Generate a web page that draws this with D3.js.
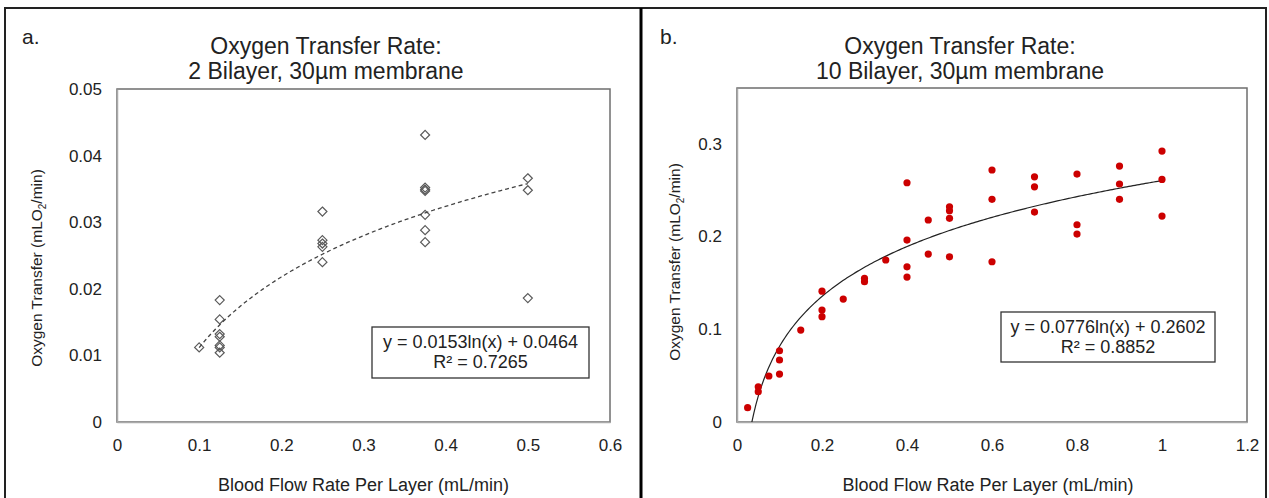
<!DOCTYPE html>
<html>
<head>
<meta charset="utf-8">
<script src="https://cdn.jsdelivr.net/npm/d3@7"></script>
<style>
  body { margin: 0; background: #fff; }
  text { font-family: "Liberation Sans", Arial, sans-serif; fill: #222; }
</style>
</head>
<body>
<div id="chart"></div>
<script>
// panel a: 2 bilayer (x = flow per layer, y = O2 transfer)
var aX = [0.1, 0.125, 0.125, 0.125, 0.125, 0.125, 0.125, 0.125,
          0.25, 0.25, 0.25, 0.25, 0.25,
          0.375, 0.375, 0.375, 0.375, 0.375, 0.375, 0.375,
          0.5, 0.5, 0.5];
var aY = [0.0112, 0.0183, 0.0154, 0.0132, 0.0128, 0.0115, 0.0112, 0.0104,
          0.0316, 0.0273, 0.0268, 0.0263, 0.0240,
          0.0431, 0.0352, 0.0349, 0.0347, 0.0311, 0.0288, 0.0270,
          0.0366, 0.0348, 0.0186];
var aFit = {a: 0.0153, b: 0.0464, r2: '0.7265'};
var aXTicks = [0, 0.1, 0.2, 0.3, 0.4, 0.5, 0.6];
var aYTicks = [0, 0.01, 0.02, 0.03, 0.04, 0.05];

// panel b: 10 bilayer
var bX = [0.025, 0.05, 0.05, 0.075, 0.1, 0.1, 0.1, 0.15,
          0.2, 0.2, 0.2, 0.25, 0.3, 0.3, 0.35,
          0.4, 0.4, 0.4, 0.4, 0.45, 0.45,
          0.5, 0.5, 0.5, 0.5, 0.6, 0.6, 0.6,
          0.7, 0.7, 0.7, 0.8, 0.8, 0.8,
          0.9, 0.9, 0.9, 1.0, 1.0, 1.0];
var bY = [0.0154, 0.038, 0.0327, 0.0496, 0.0768, 0.0668, 0.0517, 0.0991,
          0.141, 0.1207, 0.1135, 0.1325, 0.1548, 0.1512, 0.1746,
          0.2579, 0.1961, 0.1673, 0.1562, 0.2177, 0.181,
          0.232, 0.2277, 0.2195, 0.178, 0.2716, 0.24, 0.1727,
          0.2643, 0.2535, 0.2263, 0.2672, 0.2126, 0.2026,
          0.2759, 0.2565, 0.24, 0.292, 0.2615, 0.222];
var bFit = {a: 0.0776, b: 0.2602, r2: '0.8852'};
var bXTicks = [0, 0.2, 0.4, 0.6, 0.8, 1, 1.2];
var bYTicks = [0, 0.1, 0.2, 0.3];

var width = 1269, height = 498;
var svg = d3.select('#chart').append('svg')
  .attr('width', width).attr('height', height);

// outer frame and divider
svg.append('rect').attr('x', 5).attr('y', 8).attr('width', 1261).attr('height', 495)
  .attr('fill', 'none').attr('stroke', '#222').attr('stroke-width', 2);
svg.append('line').attr('x1', 641).attr('x2', 641).attr('y1', 8).attr('y2', 498)
  .attr('stroke', '#000').attr('stroke-width', 3);

function panel(opt) {
  var x = d3.scaleLinear().domain(opt.xDomain).range([opt.left, opt.right]);
  var y = d3.scaleLinear().domain(opt.yDomain).range([opt.bottom, opt.top]);
  var g = svg.append('g');

  g.append('text').attr('x', opt.letterX).attr('y', 44)
    .style('font-size', '21px').text(opt.letter);

  var title = g.append('text').attr('text-anchor', 'middle').style('font-size', '23px');
  title.append('tspan').attr('x', opt.titleX).attr('y', 54).text('Oxygen Transfer Rate:');
  title.append('tspan').attr('x', opt.titleX).attr('y', 79).text(opt.subtitle);

  // plot frame
  g.append('rect').attr('x', opt.left).attr('y', opt.top)
    .attr('width', opt.right - opt.left).attr('height', opt.bottom - opt.top)
    .attr('fill', 'none').attr('stroke', '#6e6e6e').attr('stroke-width', 1.5);

  var xAxis = g.append('g').attr('transform', 'translate(0,' + opt.bottom + ')')
    .call(d3.axisBottom(x).tickValues(opt.xTicks).tickSize(0).tickPadding(17)
      .tickFormat(function(d) { return d; }));
  var yAxis = g.append('g').attr('transform', 'translate(' + opt.left + ',0)')
    .call(d3.axisLeft(y).tickValues(opt.yTicks).tickSize(0).tickPadding(15)
      .tickFormat(function(d) { return d; }));
  [xAxis, yAxis].forEach(function(ax) {
    ax.select('.domain').attr('stroke', '#aaa').attr('stroke-width', 1.5);
    ax.selectAll('text').style('font-size', '17px').attr('fill', '#222')
      .style('font-family', '"Liberation Sans", Arial, sans-serif');
  });

  g.append('text').attr('x', (opt.left + opt.right) / 2 + opt.xTitleShift).attr('y', 491)
    .attr('text-anchor', 'middle').style('font-size', '18px')
    .text('Blood Flow Rate Per Layer (mL/min)');

  var yt = g.append('text').attr('text-anchor', 'middle').style('font-size', '15.5px')
    .attr('transform', 'translate(' + opt.yTitleX + ',' + opt.yTitleY + ') rotate(-90)');
  yt.append('tspan').text('Oxygen Transfer (mLO');
  yt.append('tspan').attr('dy', 4).style('font-size', '10px').text('2');
  yt.append('tspan').attr('dy', -4).text('/min)');

  // clip for trend line
  var clipId = 'clip' + opt.letter.replace('.', '');
  svg.append('clipPath').attr('id', clipId).append('rect')
    .attr('x', opt.left).attr('y', opt.top)
    .attr('width', opt.right - opt.left).attr('height', opt.bottom - opt.top);

  var xs = opt.xs, ys = opt.ys;
  var pts = xs.map(function(d, i) { return {x: d, y: ys[i]}; });

  // log trend line
  var xmin = d3.min(xs), xmax = d3.max(xs);
  var fitPts = d3.range(0, 201).map(function(i) {
    var xv = xmin + (xmax - xmin) * i / 200;
    return {x: xv, y: opt.fit.a * Math.log(xv) + opt.fit.b};
  });
  var line = d3.line().x(function(d) { return x(d.x); }).y(function(d) { return y(d.y); });

  if (opt.marker === 'diamond') {
    var sym = d3.symbol().type(d3.symbolDiamond2).size(52);
    g.selectAll('.pt').data(pts).enter().append('path')
      .attr('class', 'pt')
      .attr('transform', function(d) { return 'translate(' + x(d.x) + ',' + y(d.y) + ')'; })
      .attr('d', sym)
      .attr('fill', 'none').attr('stroke', '#5a5a5a').attr('stroke-width', 1.2);
    g.append('path').datum(fitPts).attr('d', line)
      .attr('clip-path', 'url(#' + clipId + ')')
      .attr('fill', 'none').attr('stroke', '#444').attr('stroke-width', 1.3)
      .attr('stroke-dasharray', '4,3');
  } else {
    g.append('path').datum(fitPts).attr('d', line)
      .attr('clip-path', 'url(#' + clipId + ')')
      .attr('fill', 'none').attr('stroke', '#222').attr('stroke-width', 1.2);
    g.selectAll('.pt').data(pts).enter().append('circle')
      .attr('class', 'pt')
      .attr('cx', function(d) { return x(d.x); })
      .attr('cy', function(d) { return y(d.y); })
      .attr('r', 3.6).attr('fill', '#cc0000');
  }

  // equation box
  var bx = opt.box;
  g.append('rect').attr('x', bx.x).attr('y', bx.y).attr('width', bx.w).attr('height', bx.h)
    .attr('fill', '#fff').attr('stroke', '#333').attr('stroke-width', 1.3);
  var eq = g.append('text').attr('text-anchor', 'middle').style('font-size', '18px');
  eq.append('tspan').attr('x', bx.x + bx.w / 2).attr('y', bx.y + 21)
    .text('y = ' + opt.fit.a + 'ln(x) + ' + opt.fit.b);
  eq.append('tspan').attr('x', bx.x + bx.w / 2).attr('y', bx.y + 41)
    .text('R² = ' + opt.fit.r2);
}

panel({
  letter: 'a.', letterX: 22, titleX: 326, subtitle: '2 Bilayer, 30\u00b5m membrane',
  left: 117, right: 610, top: 89, bottom: 422,
  xDomain: [0, 0.6], yDomain: [0, 0.05], xTicks: aXTicks, yTicks: aYTicks,
  xTitleShift: 0, yTitleX: 42, yTitleY: 268,
  xs: aX, ys: aY, fit: aFit, marker: 'diamond',
  box: {x: 372, y: 327, w: 217, h: 51}
});

panel({
  letter: 'b.', letterX: 660, titleX: 960, subtitle: '10 Bilayer, 30\u00b5m membrane',
  left: 737, right: 1247, top: 88, bottom: 422,
  xDomain: [0, 1.2], yDomain: [0, 0.36], xTicks: bXTicks, yTicks: bYTicks,
  xTitleShift: -4, yTitleX: 680, yTitleY: 262,
  xs: bX, ys: bY, fit: bFit, marker: 'circle',
  box: {x: 1001, y: 312, w: 214, h: 50}
});
</script>
</body>
</html>
